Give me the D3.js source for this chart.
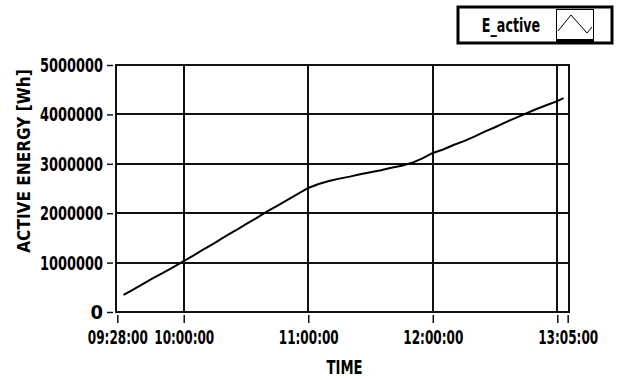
<!DOCTYPE html>
<html>
<head>
<meta charset="utf-8">
<script src="https://cdn.jsdelivr.net/npm/d3@7"></script>
<style>
  html, body { margin: 0; padding: 0; background: #fff; }
  #chart { width: 617px; height: 380px; }
  text { font-family: "DejaVu Sans", sans-serif; font-stretch: condensed; font-weight: bold; fill: #000; }
</style>
</head>
<body>
<div id="chart"></div>
<script>
// readings (time of day, active energy in Wh)
const times = [
  "09:31:00","09:35:00","09:40:00","09:45:00","09:50:00","09:55:00",
  "10:00:00","10:05:00","10:10:00","10:15:00","10:20:00","10:25:00",
  "10:30:00","10:35:00","10:40:00","10:45:00","10:50:00","10:55:00",
  "11:00:00","11:05:00","11:10:00","11:15:00","11:20:00","11:25:00",
  "11:30:00","11:35:00","11:40:00","11:45:00","11:50:00","11:55:00",
  "12:00:00","12:05:00","12:10:00","12:15:00","12:20:00","12:25:00",
  "12:30:00","12:35:00","12:40:00","12:45:00","12:50:00","12:55:00",
  "13:00:00","13:03:00"
];
const energy = [
  345000, 440000, 560000, 680000, 790000, 910000,
  1030000, 1150000, 1280000, 1400000, 1530000, 1650000,
  1780000, 1900000, 2030000, 2150000, 2270000, 2390000,
  2510000, 2590000, 2650000, 2700000, 2740000, 2790000,
  2830000, 2870000, 2920000, 2960000, 3020000, 3110000,
  3220000, 3290000, 3380000, 3460000, 3550000, 3650000,
  3740000, 3840000, 3930000, 4020000, 4110000, 4190000,
  4270000, 4330000
];

const xRange = ["09:27:22", "13:05:38"];
const xTicks = ["09:28:00", "10:00:00", "11:00:00", "12:00:00", "13:00:00", "13:05:00"];
const xTickLabels = ["09:28:00", "10:00:00", "11:00:00", "12:00:00", "", "13:05:00"];
const xGrid = ["10:00:00", "11:00:00", "12:00:00", "13:00:00"];
const yTicks = [0, 1000000, 2000000, 3000000, 4000000, 5000000];

const seriesName = "E_active";

const width = 617, height = 380;
const margin = {top: 65, right: 48, bottom: 68, left: 116};

const parse = d3.timeParse("%H:%M:%S");
const data = times.map((t, i) => ({t: parse(t), v: energy[i]}));

// squeeze text to a narrow look (the original uses a bold condensed face)
function narrow(sel, perChar) {
  sel.each(function() {
    const s = this.textContent;
    if (s.length > 1) {
      d3.select(this)
        .attr("textLength", s.length * perChar)
        .attr("lengthAdjust", "spacingAndGlyphs");
    }
  });
}

const x = d3.scaleTime()
    .domain(xRange.map(parse))
    .range([margin.left, width - margin.right]);

const y = d3.scaleLinear()
    .domain([0, 5000000])
    .range([height - margin.bottom, margin.top]);

const svg = d3.select("#chart").append("svg")
    .attr("width", width)
    .attr("height", height);

// grid
const grid = svg.append("g")
    .attr("stroke", "#111")
    .attr("stroke-width", 2)
    .attr("shape-rendering", "crispEdges");

grid.selectAll("line.h")
  .data(yTicks)
  .join("line")
    .attr("class", "h")
    .attr("x1", margin.left)
    .attr("x2", width - margin.right)
    .attr("y1", d => y(d))
    .attr("y2", d => y(d));

grid.selectAll("line.v")
  .data(xGrid)
  .join("line")
    .attr("class", "v")
    .attr("x1", d => x(parse(d)))
    .attr("x2", d => x(parse(d)))
    .attr("y1", margin.top)
    .attr("y2", height - margin.bottom);

grid.append("rect")
    .attr("x", margin.left)
    .attr("y", margin.top)
    .attr("width", width - margin.left - margin.right)
    .attr("height", height - margin.top - margin.bottom)
    .attr("fill", "none");

// axes
const xAxis = svg.append("g")
    .attr("transform", `translate(0,${height - margin.bottom + 3})`)
    .call(d3.axisBottom(x)
      .tickValues(xTicks.map(parse))
      .tickFormat((d, i) => xTickLabels[i])
      .tickSize(8)
      .tickPadding(6.8));
xAxis.select(".domain").remove();
xAxis.selectAll(".tick line").attr("stroke", "#111").attr("stroke-width", 1.5);
xAxis.selectAll("text").attr("font-size", 20).attr("font-family", null).call(narrow, 7.5);

const yAxis = svg.append("g")
    .attr("transform", `translate(${margin.left - 3},0)`)
    .call(d3.axisLeft(y)
      .tickValues(yTicks)
      .tickFormat(d3.format("d"))
      .tickSize(6)
      .tickPadding(4));
yAxis.select(".domain").remove();
yAxis.selectAll(".tick line").attr("stroke", "#111").attr("stroke-width", 1.5);
yAxis.selectAll("text").attr("font-size", 20).attr("font-family", null).call(narrow, 9);

// axis titles
svg.append("text")
    .attr("x", (margin.left + width - margin.right) / 2 + 2)
    .attr("y", 374)
    .attr("text-anchor", "middle")
    .attr("font-size", 20)
    .text("TIME")
    .call(narrow, 9);

svg.append("text")
    .attr("transform", "translate(30,161) rotate(-90)")
    .attr("text-anchor", "middle")
    .attr("font-size", 18)
    .text("ACTIVE ENERGY [Wh]")
    .call(narrow, 10.2);

// series
const line = d3.line()
    .x(d => x(d.t))
    .y(d => y(d.v));

svg.append("path")
    .datum(data)
    .attr("fill", "none")
    .attr("stroke", "#000")
    .attr("stroke-width", 2)
    .attr("d", line);

// legend
const lg = svg.append("g");
lg.append("rect")
    .attr("x", 458).attr("y", 7)
    .attr("width", 154).attr("height", 36)
    .attr("fill", "#fff").attr("stroke", "#000").attr("stroke-width", 3);
lg.append("rect")
    .attr("x", 556).attr("y", 9)
    .attr("width", 38).attr("height", 34)
    .attr("fill", "#000");
lg.append("rect")
    .attr("x", 557).attr("y", 10)
    .attr("width", 36).attr("height", 29)
    .attr("fill", "#fff");
lg.append("text")
    .attr("x", 511).attr("y", 32)
    .attr("text-anchor", "middle")
    .attr("font-size", 19)
    .text(seriesName)
    .call(narrow, 7.3);
lg.append("path")
    .attr("d", d3.line()([[558, 31], [571, 15], [587, 33], [592, 27]]))
    .attr("fill", "none")
    .attr("stroke", "#000")
    .attr("stroke-width", 1);
</script>
</body>
</html>
